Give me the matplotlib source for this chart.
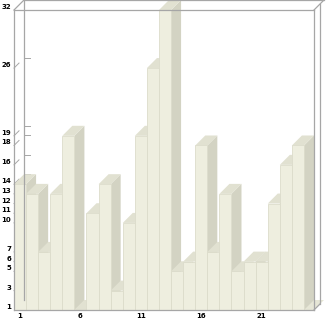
import matplotlib.pyplot as plt
from matplotlib.patches import Polygon
import matplotlib.transforms as mtransforms

# bar values (24 bars)
positions = list(range(1, 25))
values = [14, 13, 7, 13, 19, 1, 11, 14, 3, 10, 19, 26,
          32, 5, 6, 18, 7, 13, 5, 6, 6, 12, 16, 18]
y_ticks = [1, 3, 5, 6, 7, 10, 11, 12, 13, 14, 16, 18, 19, 26, 32]
x_ticks = [1, 6, 11, 16, 21]

front_col = '#eeeedf'
side_col = '#d3d3c3'
top_col = '#e1e1d1'
edge_col = '#dcdccb'
frame_col = '#a6a6a6'

W, H = 326, 321
fig = plt.figure(figsize=(W / 100, H / 100), dpi=100)
ax = fig.add_axes([14 / W, 11 / H, 300 / W, 300 / H])
x_min, x_max = 0.5, 0.5 + 300 / 12.083
y_min, y_max = 1, 32
ax.set_xlim(x_min, x_max)
ax.set_ylim(y_min, y_max)

# depth of the 3d effect: 10 px back, converted to data units
p0 = ax.transData.transform((0, 0))
p1 = ax.transData.transform((1, 1))
depth_px = 10
dx = depth_px / (p1[0] - p0[0])
dy = depth_px / (p1[1] - p0[1])

# floor
floor = Polygon([(x_min, y_min), (x_max, y_min), (x_max + dx, y_min + dy),
                 (x_min + dx, y_min + dy)], closed=True, fc='#e6e6d6',
                ec='none', zorder=1, clip_on=False)
ax.add_patch(floor)

# small ticks: diagonal ones on the left wall and short ones on the back wall
for v in y_ticks:
    if v in (y_min, y_max):
        continue
    ax.plot([x_min, x_min + dx / 2], [v, v + dy / 2], color=frame_col,
            lw=0.7, zorder=1.5, clip_on=False)
    ax.plot([x_min + dx, x_min + dx + 0.5], [v + dy, v + dy],
            color=frame_col, lw=0.7, zorder=1.5, clip_on=False)

# bars: side and top faces, then the front faces
for x, v in zip(positions, values):
    side = Polygon([(x + 0.5, y_min), (x + 0.5, v), (x + 0.5 + dx, v + dy),
                    (x + 0.5 + dx, y_min + dy)], closed=True, fc=side_col,
                   ec='none', zorder=2, clip_on=False)
    top = Polygon([(x - 0.5, v), (x + 0.5, v), (x + 0.5 + dx, v + dy),
                   (x - 0.5 + dx, v + dy)], closed=True, fc=top_col,
                  ec='none', zorder=3, clip_on=False)
    ax.add_patch(side)
    ax.add_patch(top)

ax.bar(positions, [v - y_min for v in values], bottom=y_min, width=1,
       color=front_col, edgecolor=edge_col, linewidth=0.6, zorder=4)

# frame: front box from the spines, back box drawn in axes fraction
for s in ax.spines.values():
    s.set_color(frame_col)
    s.set_linewidth(0.9)
    s.set_zorder(6)
fx = depth_px / 300
fy = depth_px / 300
fr = 6 / 300
frame_lines = [
    ([0, fx], [1, 1 + fy]),
    ([fx, 1 + fx], [1 + fy, 1 + fy]),
    ([fx, fx], [fy, 1 + fy]),
    ([1, 1 + fx], [1, 1 + fy]),
    ([1 + fr, 1 + fr], [fr, 1 + fr]),
    ([1, 1 + fr], [0, fr]),
]
for xs, ys in frame_lines:
    ax.plot(xs, ys, color=frame_col, lw=0.9, transform=ax.transAxes,
            clip_on=False, zorder=6)

# tick labels
ax.set_xticks(x_ticks)
ax.set_xticklabels([str(t) for t in x_ticks], fontweight='bold')
ax.tick_params(axis='x', length=0, pad=2.5, labelsize=5)
ax.set_yticks([])
label_tr = ax.get_yaxis_transform() + mtransforms.ScaledTranslation(
    -3 / 100, 3 / 100, fig.dpi_scale_trans)
for v in y_ticks:
    ax.text(0, v, str(v), transform=label_tr, ha='right', va='center',
            fontsize=5, fontweight='bold', color='black')

fig.savefig('out.png', dpi=100)
